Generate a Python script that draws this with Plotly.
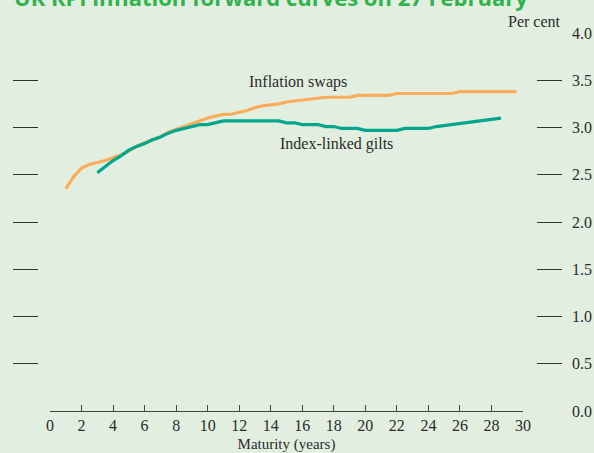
import plotly.graph_objects as go

# Inflation swaps forward curve
swap_maturity = [1.0, 1.5, 2.0, 2.5, 3.0, 3.5, 4.0, 4.5, 5.0, 5.5, 6.0, 6.5, 7.0, 7.5,
                 8.0, 8.5, 9.0, 9.5, 10.0, 10.5, 11.0, 11.5, 12.0, 12.5, 13.0, 13.5,
                 14.0, 14.5, 15.0, 15.5, 16.0, 16.5, 17.0, 17.5, 18.0, 18.5, 19.0,
                 19.5, 20.0, 20.5, 21.0, 21.5, 22.0, 22.5, 23.0, 23.5, 24.0, 24.5,
                 25.0, 25.5, 26.0, 26.5, 27.0, 27.5, 28.0, 28.5, 29.0, 29.6]
swap_rate = [2.35, 2.48, 2.57, 2.61, 2.63, 2.65, 2.68, 2.71, 2.75, 2.80, 2.84, 2.87,
             2.90, 2.95, 2.98, 3.01, 3.04, 3.07, 3.10, 3.12, 3.14, 3.14, 3.16, 3.18,
             3.21, 3.23, 3.24, 3.25, 3.27, 3.28, 3.29, 3.30, 3.31, 3.32, 3.32, 3.32,
             3.32, 3.34, 3.34, 3.34, 3.34, 3.34, 3.36, 3.36, 3.36, 3.36, 3.36, 3.36,
             3.36, 3.36, 3.38, 3.38, 3.38, 3.38, 3.38, 3.38, 3.38, 3.38]

# Index-linked gilts forward curve
gilt_maturity = [3.0, 3.5, 4.0, 4.5, 5.0, 5.5, 6.0, 6.5, 7.0, 7.5, 8.0, 8.5, 9.0,
                 9.5, 10.0, 10.5, 11.0, 11.5, 12.0, 12.5, 13.0, 13.5, 14.0, 14.5,
                 15.0, 15.5, 16.0, 16.5, 17.0, 17.5, 18.0, 18.5, 19.0, 19.5, 20.0,
                 20.5, 21.0, 21.5, 22.0, 22.5, 23.0, 23.5, 24.0, 24.5, 25.0, 25.5,
                 26.0, 26.5, 27.0, 27.5, 28.0, 28.6]
gilt_rate = [2.52, 2.59, 2.65, 2.70, 2.76, 2.80, 2.83, 2.87, 2.90, 2.94, 2.97, 2.99,
             3.01, 3.03, 3.03, 3.05, 3.07, 3.07, 3.07, 3.07, 3.07, 3.07, 3.07, 3.07,
             3.05, 3.05, 3.03, 3.03, 3.03, 3.01, 3.01, 2.99, 2.99, 2.99, 2.97, 2.97,
             2.97, 2.97, 2.97, 2.99, 2.99, 2.99, 2.99, 3.01, 3.02, 3.03, 3.04, 3.05,
             3.06, 3.07, 3.08, 3.10]

x_ticks = list(range(0, 31, 2))
y_ticks = [0.0, 0.5, 1.0, 1.5, 2.0, 2.5, 3.0, 3.5, 4.0]
y_tick_labels = [f"{v:.1f}" for v in y_ticks]

BG = "#e2efe0"
TXT = "#2b2b2b"
SERIF = "Liberation Serif"

fig = go.Figure()
fig.add_trace(go.Scatter(x=swap_maturity, y=swap_rate, mode="lines",
                         line=dict(color="#f9ad5a", width=3.2), name="Inflation swaps",
                         hoverinfo="skip", cliponaxis=False))
fig.add_trace(go.Scatter(x=gilt_maturity, y=gilt_rate, mode="lines",
                         line=dict(color="#00a58c", width=3.2), name="Index-linked gilts",
                         hoverinfo="skip", cliponaxis=False))
# invisible trace to activate the left dash axis
fig.add_trace(go.Scatter(x=[None], y=[None], yaxis="y2", showlegend=False,
                         hoverinfo="skip"))

L, R = 12, 562
W = 594
plot_w = R - L
x0_px, x1_px = 50, 523

fig.update_layout(
    width=594, height=453,
    margin=dict(l=L, r=W - R, t=33, b=42, pad=0, autoexpand=False),
    paper_bgcolor=BG, plot_bgcolor=BG,
    showlegend=False,
    font=dict(family=SERIF, size=16, color=TXT),
    xaxis=dict(
        domain=[(x0_px - L) / plot_w, (x1_px - L) / plot_w],
        range=[0, 30], tickvals=x_ticks, ticks="inside", ticklen=6,
        tickcolor="#444444", tickwidth=1.3,
        showline=True, linecolor="#444444", linewidth=1.3,
        showgrid=False, zeroline=False, automargin=False,
        tickfont=dict(family=SERIF, size=16, color=TXT),
        title=dict(text="Maturity (years)", standoff=7,
                   font=dict(family=SERIF, size=15, color=TXT)),
        fixedrange=True,
    ),
    yaxis=dict(
        anchor="free", position=1.0, side="right",
        range=[0, 4], tickvals=y_ticks, ticktext=y_tick_labels,
        ticks="inside", ticklen=25, tickwidth=1.3, tickcolor="#333333",
        showline=False, showgrid=False, zeroline=False, automargin=False,
        tickfont=dict(family=SERIF, size=16, color=TXT),
        ticklabelstandoff=9,
        fixedrange=True,
    ),
    yaxis2=dict(
        overlaying="y", anchor="free", position=0.0, side="left",
        range=[0, 4], tickvals=y_ticks, showticklabels=False,
        ticks="inside", ticklen=25, tickwidth=1.3, tickcolor="#333333",
        showline=False, showgrid=False, zeroline=False, automargin=False,
        fixedrange=True,
    ),
)

fig.add_annotation(text="<b>UK RPI inflation forward curves on 27 February</b>",
                   xref="paper", yref="paper", x=0.0, y=1.05,
                   xanchor="left", yanchor="bottom", showarrow=False,
                   font=dict(family="Open Sans", size=22, color="#2eb34d"),
                   )
fig.add_annotation(text="Per cent", xref="paper", yref="paper",
                   x=(534 - L) / plot_w, y=1.03, xanchor="center", yanchor="middle",
                   showarrow=False, font=dict(family=SERIF, size=16, color=TXT))
fig.add_annotation(text="Inflation swaps", xref="x", yref="y", x=15.7, y=3.48,
                   xanchor="center", yanchor="middle", showarrow=False,
                   font=dict(family=SERIF, size=16, color=TXT))
fig.add_annotation(text="Index-linked gilts", xref="x", yref="y", x=18.2, y=2.83,
                   xanchor="center", yanchor="middle", showarrow=False,
                   font=dict(family=SERIF, size=16, color=TXT))

fig.write_html("out.html", config=dict(displayModeBar=False),
               post_script="document.body.style.margin='0px';"
                           "document.body.style.overflow='hidden';"
                           "document.body.style.background='" + BG + "';")
